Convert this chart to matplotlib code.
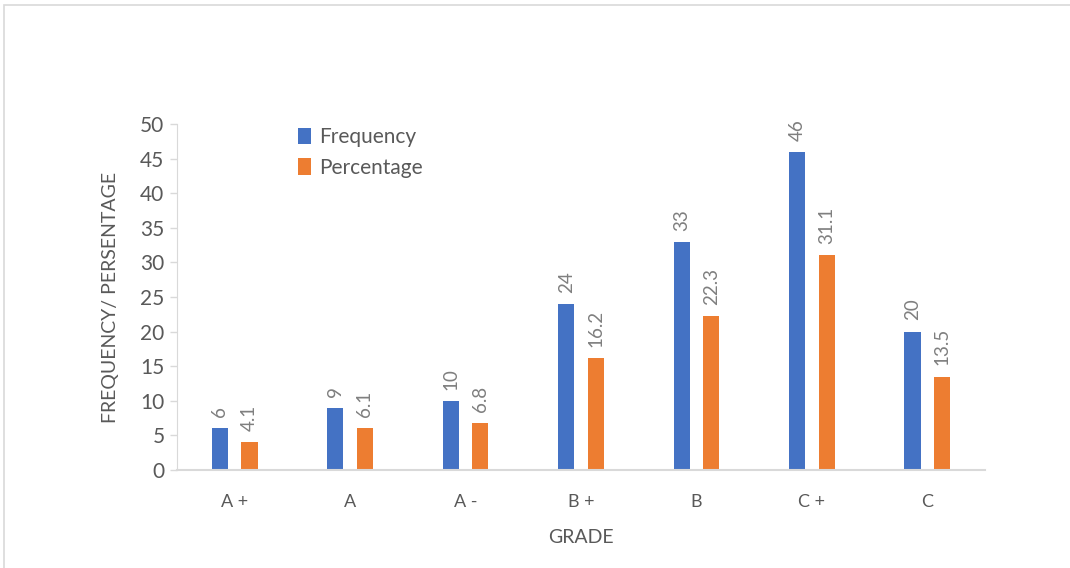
import matplotlib
matplotlib.use('Agg')
import matplotlib.pyplot as plt
from matplotlib.patches import Rectangle
import numpy as np

plt.rcParams['font.family'] = ['Lato', 'DejaVu Sans']

GRADES = ['A +', 'A', 'A -', 'B +', 'B', 'C +', 'C']
FREQUENCY = [6, 9, 10, 24, 33, 46, 20]
PERCENTAGE = [4.1, 6.1, 6.8, 16.2, 22.3, 31.1, 13.5]
FREQ_LABELS = ['6', '9', '10', '24', '33', '46', '20']
PCT_LABELS = ['4.1', '6.1', '6.8', '16.2', '22.3', '31.1', '13.5']

BLUE = '#4472C4'
ORANGE = '#ED7D31'
TEXT = '#595959'
AXIS = '#D9D9D9'

fig = plt.figure(figsize=(10.7, 5.68), dpi=100)
fig.patches.append(Rectangle((4 / 1070, -0.1), 1.1, 1 - 5 / 568 + 0.1,
                             transform=fig.transFigure, fill=False,
                             edgecolor='#D9D9D9', linewidth=1.2))
ax = fig.add_axes([177 / 1070, 1 - 470 / 568, 808 / 1070, 346 / 568])

x = np.arange(len(GRADES))
w = 0.14
off = 0.128
b1 = ax.bar(x - off, FREQUENCY, w, color=BLUE, label='Frequency')
b2 = ax.bar(x + off, PERCENTAGE, w, color=ORANGE, label='Percentage')

for bars, labels in ((b1, FREQ_LABELS), (b2, PCT_LABELS)):
    for r, t in zip(bars, labels):
        ax.annotate(t, (r.get_x() + r.get_width() / 2, r.get_height()),
                    xytext=(0, 8), textcoords='offset points',
                    rotation=90, ha='center', va='bottom',
                    fontsize=13.5, color='#7F7F7F')

ax.set_xlim(-0.5, len(GRADES) - 0.5)
ax.set_ylim(0, 50)
ax.set_yticks(range(0, 51, 5))
ax.set_xticks(x)
ax.set_xticklabels(GRADES)
ax.tick_params(axis='y', colors=AXIS, labelcolor=TEXT, labelsize=15,
               length=5, width=1, pad=4)
ax.tick_params(axis='x', length=0, labelcolor=TEXT, labelsize=13, pad=17)

for s in ('top', 'right'):
    ax.spines[s].set_visible(False)
ax.spines['left'].set_color(AXIS)
ax.spines['bottom'].set_color(AXIS)
ax.spines['bottom'].set_linewidth(1.5)

ax.set_xlabel('GRADE', color=TEXT, fontsize=14, labelpad=14)
ax.set_ylabel('FREQUENCY/ PERSENTAGE', color=TEXT, fontsize=14, labelpad=15)

ax.legend(loc='upper left', bbox_to_anchor=(0.126, 1.045), frameon=False,
          fontsize=15, handlelength=0.65, handleheight=0.85,
          handletextpad=0.4, labelspacing=0.5, labelcolor=TEXT)

fig.savefig('out.png', dpi=100)
